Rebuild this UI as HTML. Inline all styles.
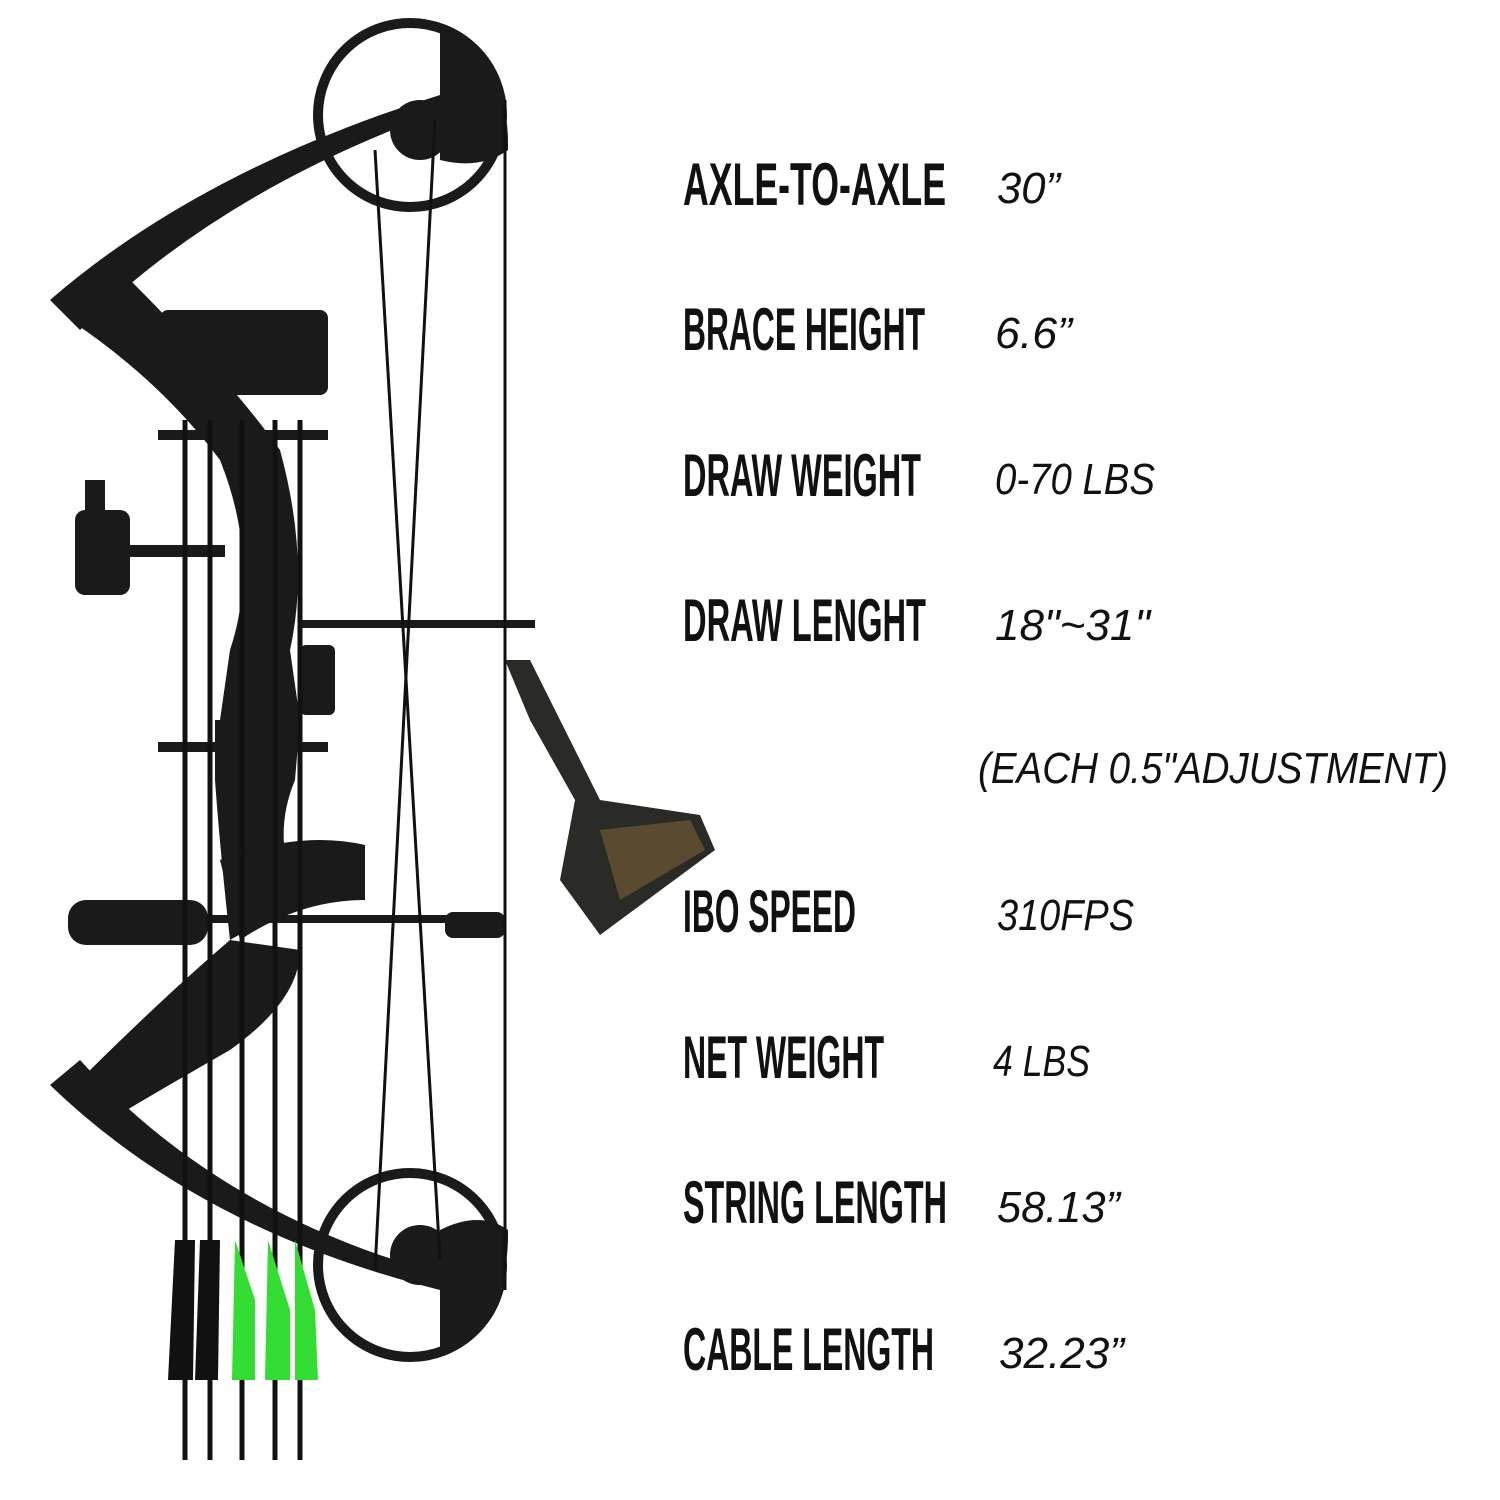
<!DOCTYPE html>
<html><head><meta charset="utf-8"><style>
html,body{margin:0;padding:0;background:#fff}
svg{display:block}
.l{font-family:"Liberation Sans",sans-serif;font-weight:bold;font-size:60px;fill:#111}
.v{font-family:"Liberation Sans",sans-serif;font-style:italic;font-size:44px;fill:#111}
</style></head><body>
<svg width="1500" height="1500" viewBox="0 0 1500 1500" xmlns="http://www.w3.org/2000/svg">
<g fill="#1a1a1a" stroke="#111">
<!-- cams -->
<circle cx="410" cy="115" r="92" fill="none" stroke="#1a1a1a" stroke-width="10"/>
<path d="M440 30 Q510 60 508 150 Q480 170 440 160 Z" stroke="none"/>
<circle cx="420" cy="130" r="30" stroke="none"/>
<circle cx="410" cy="1265" r="92" fill="none" stroke="#1a1a1a" stroke-width="10"/>
<path d="M440 1350 Q510 1320 508 1230 Q480 1210 440 1230 Z" stroke="none"/>
<circle cx="420" cy="1255" r="30" stroke="none"/>
<!-- limbs -->
<path d="M50 300 Q200 170 440 95 L445 110 Q220 190 80 330 Z" stroke="none"/>
<path d="M50 1085 Q200 1230 440 1290 L445 1275 Q220 1215 80 1060 Z" stroke="none"/>
<!-- riser -->
<path d="M70 290 L130 280 Q230 380 280 450 Q310 560 290 650 L300 720 L220 720 L230 650 Q260 560 220 460 Q160 380 70 320 Z" stroke="none"/>
<path d="M215 720 L300 720 L295 780 Q270 840 300 900 L230 940 Q220 850 215 780 Z" stroke="none"/>
<path d="M70 1090 Q160 1000 230 940 L300 950 Q300 1000 230 1050 Q160 1090 110 1120 Z" stroke="none"/>
<path d="M220 860 Q300 830 365 845 L365 900 Q300 900 240 940 Z" stroke="none"/>
<!-- quiver -->
<rect x="160" y="310" width="168" height="85" rx="8" stroke="none"/>
<rect x="158" y="430" width="170" height="10" stroke="none"/>
<rect x="158" y="742" width="170" height="10" stroke="none"/>
<!-- sight -->
<rect x="75" y="510" width="55" height="85" rx="10" stroke="none"/>
<rect x="85" y="480" width="20" height="35" stroke="none"/>
<rect x="125" y="545" width="100" height="12" stroke="none"/>
<!-- stabilizer -->
<rect x="68" y="900" width="140" height="45" rx="18" stroke="none"/>
<rect x="200" y="915" width="300" height="8" stroke="none"/>
<rect x="445" y="912" width="60" height="26" rx="8" stroke="none"/>
<!-- arrow rest bar -->
<rect x="300" y="620" width="235" height="8" stroke="none"/>
<rect x="300" y="645" width="35" height="70" rx="6" stroke="none"/>
<!-- release -->
<path d="M505 660 L530 660 L580 760 L600 800 L700 815 L715 850 L600 935 L560 880 L575 800 L530 720 Z" stroke="none" fill="#2a2a26"/>
<path d="M600 830 L690 820 L705 850 L620 900 Z" fill="#5a4a30" stroke="none"/>
</g>
<!-- arrows -->
<g stroke="#111" stroke-width="5">
<line x1="185" y1="420" x2="185" y2="1460"/><line x1="210" y1="420" x2="210" y2="1460"/>
<line x1="242" y1="420" x2="242" y2="1460"/><line x1="275" y1="420" x2="275" y2="1460"/>
<line x1="300" y1="420" x2="300" y2="1460"/>
</g>
<g stroke="none">
<path d="M175 1240 L195 1240 L193 1380 L168 1380 Z" fill="#111"/>
<path d="M200 1240 L220 1240 L218 1380 L195 1380 Z" fill="#111"/>
<path d="M235 1240 L255 1300 L255 1380 L232 1380 Z" fill="#33dd33"/>
<path d="M268 1240 L290 1310 L290 1380 L265 1380 Z" fill="#33dd33"/>
<path d="M295 1240 L315 1310 L318 1380 L295 1380 Z" fill="#33dd33"/>
</g>
<!-- string & cables -->
<line x1="505" y1="100" x2="505" y2="1290" stroke="#111" stroke-width="3"/>
<line x1="375" y1="150" x2="440" y2="1260" stroke="#111" stroke-width="3"/>
<line x1="435" y1="120" x2="375" y2="1270" stroke="#111" stroke-width="3"/>
<!-- text -->
<text class="l" x="683" y="205" textLength="263" lengthAdjust="spacingAndGlyphs">AXLE-TO-AXLE</text>
<text class="v" x="997" y="203" textLength="63" lengthAdjust="spacingAndGlyphs">30”</text>
<text class="l" x="683" y="350" textLength="242" lengthAdjust="spacingAndGlyphs">BRACE HEIGHT</text>
<text class="v" x="995" y="348" textLength="77" lengthAdjust="spacingAndGlyphs">6.6”</text>
<text class="l" x="683" y="496" textLength="238" lengthAdjust="spacingAndGlyphs">DRAW WEIGHT</text>
<text class="v" x="995" y="494" textLength="160" lengthAdjust="spacingAndGlyphs">0-70 LBS</text>
<text class="l" x="683" y="641" textLength="243" lengthAdjust="spacingAndGlyphs">DRAW LENGHT</text>
<text class="v" x="995" y="640" textLength="155" lengthAdjust="spacingAndGlyphs">18"~31"</text>
<text class="v" x="978" y="783" textLength="470" lengthAdjust="spacingAndGlyphs">(EACH 0.5"ADJUSTMENT)</text>
<text class="l" x="683" y="932" textLength="173" lengthAdjust="spacingAndGlyphs">IBO SPEED</text>
<text class="v" x="997" y="930" textLength="137" lengthAdjust="spacingAndGlyphs">310FPS</text>
<text class="l" x="683" y="1078" textLength="201" lengthAdjust="spacingAndGlyphs">NET WEIGHT</text>
<text class="v" x="993" y="1076" textLength="97" lengthAdjust="spacingAndGlyphs">4 LBS</text>
<text class="l" x="683" y="1223" textLength="264" lengthAdjust="spacingAndGlyphs">STRING LENGTH</text>
<text class="v" x="997" y="1222" textLength="123" lengthAdjust="spacingAndGlyphs">58.13”</text>
<text class="l" x="683" y="1370" textLength="251" lengthAdjust="spacingAndGlyphs">CABLE LENGTH</text>
<text class="v" x="999" y="1368" textLength="125" lengthAdjust="spacingAndGlyphs">32.23”</text>
</svg>
</body></html>
